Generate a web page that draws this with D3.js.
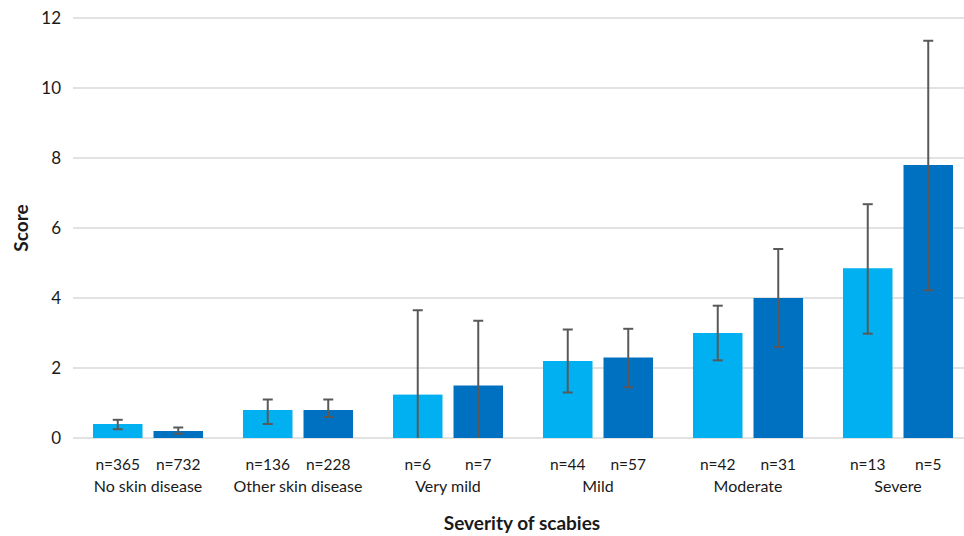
<!DOCTYPE html>
<html>
<head>
<meta charset="utf-8">
<script src="https://cdn.jsdelivr.net/npm/d3@7"></script>
<style>
  body { margin: 0; background: #fff; }
  text { font-family: Lato, "Open Sans", sans-serif; fill: #1a1a1a; }
</style>
</head>
<body>
<script>
// data
const categories = ["No skin disease", "Other skin disease", "Very mild", "Mild", "Moderate", "Severe"];
const series = ["a", "b"];
const colors = ["#00b0f0", "#0070c0"];
const meansA = [0.4, 0.8, 1.24, 2.2, 3.0, 4.85];
const meansB = [0.2, 0.8, 1.5, 2.3, 4.0, 7.8];
const lowA = [0.25, 0.4, 0, 1.3, 2.22, 2.98];
const highA = [0.52, 1.1, 3.65, 3.1, 3.78, 6.68];
const lowB = [0.12, 0.6, 0, 1.45, 2.6, 4.22];
const highB = [0.3, 1.1, 3.35, 3.12, 5.4, 11.35];
const nA = ["n=365", "n=136", "n=6", "n=44", "n=42", "n=13"];
const nB = ["n=732", "n=228", "n=7", "n=57", "n=31", "n=5"];
const yTicks = [0, 2, 4, 6, 8, 10, 12];

const w = 964, h = 536;
const plotLeft = 73, plotRight = 973, plotTop = 18, plotBottom = 438;

const rows = categories.map((c, i) => ({
  cat: c,
  vals: [
    { s: "a", mean: meansA[i], lo: lowA[i], hi: highA[i], n: nA[i] },
    { s: "b", mean: meansB[i], lo: lowB[i], hi: highB[i], n: nB[i] }
  ]
}));

const svg = d3.select("body").append("svg")
  .attr("width", w)
  .attr("height", h);

const x = d3.scaleBand().domain(categories).range([plotLeft, plotRight]).paddingInner(0).paddingOuter(0);
const xs = d3.scaleBand().domain(series).range([20, 130]).paddingInner(10 / 55);
const y = d3.scaleLinear().domain([0, 12]).range([plotBottom, plotTop]);
const color = d3.scaleOrdinal().domain(series).range(colors);

// gridlines
svg.append("g")
  .selectAll("line")
  .data(yTicks)
  .join("line")
  .attr("x1", plotLeft)
  .attr("x2", w)
  .attr("y1", d => y(d))
  .attr("y2", d => y(d))
  .attr("stroke", "#d9d9d9")
  .attr("stroke-width", 1.5);

// y tick labels
svg.append("g")
  .selectAll("text")
  .data(yTicks)
  .join("text")
  .attr("x", 61)
  .attr("y", d => y(d))
  .attr("dy", "0.35em")
  .attr("text-anchor", "end")
  .style("font-size", "17px")
  .text(d => d);

const groups = svg.append("g")
  .selectAll("g")
  .data(rows)
  .join("g")
  .attr("transform", d => `translate(${x(d.cat)},0)`);

groups.selectAll("rect")
  .data(d => d.vals)
  .join("rect")
  .attr("x", d => xs(d.s))
  .attr("y", d => y(d.mean))
  .attr("width", xs.bandwidth())
  .attr("height", d => y(0) - y(d.mean))
  .attr("fill", d => color(d.s));

// error bars
const err = groups.selectAll("g.err")
  .data(d => d.vals)
  .join("g")
  .attr("class", "err")
  .attr("stroke", "#595959")
  .attr("stroke-width", 2);

err.append("line")
  .attr("x1", d => xs(d.s) + xs.bandwidth() / 2)
  .attr("x2", d => xs(d.s) + xs.bandwidth() / 2)
  .attr("y1", d => y(d.lo))
  .attr("y2", d => y(d.hi));

err.append("line")
  .attr("x1", d => xs(d.s) + xs.bandwidth() / 2 - 5)
  .attr("x2", d => xs(d.s) + xs.bandwidth() / 2 + 5)
  .attr("y1", d => y(d.hi))
  .attr("y2", d => y(d.hi));

err.filter(d => d.lo > 0).append("line")
  .attr("x1", d => xs(d.s) + xs.bandwidth() / 2 - 5)
  .attr("x2", d => xs(d.s) + xs.bandwidth() / 2 + 5)
  .attr("y1", d => y(d.lo))
  .attr("y2", d => y(d.lo));

// n labels
groups.selectAll("text.n")
  .data(d => d.vals)
  .join("text")
  .attr("class", "n")
  .attr("x", d => xs(d.s) + xs.bandwidth() / 2)
  .attr("y", 470)
  .attr("text-anchor", "middle")
  .style("font-size", "15.5px")
  .text(d => d.n);

// category labels
groups.append("text")
  .attr("x", x.bandwidth() / 2)
  .attr("y", 492)
  .attr("text-anchor", "middle")
  .style("font-size", "16px")
  .text(d => d.cat);

// axis titles
svg.append("text")
  .attr("x", 522)
  .attr("y", 530)
  .attr("text-anchor", "middle")
  .style("font-size", "19px")
  .style("font-weight", "bold")
  .text("Severity of scabies");

svg.append("text")
  .attr("transform", "translate(28,228) rotate(-90)")
  .attr("text-anchor", "middle")
  .style("font-size", "19px")
  .style("font-weight", "bold")
  .text("Score");
</script>
</body>
</html>
